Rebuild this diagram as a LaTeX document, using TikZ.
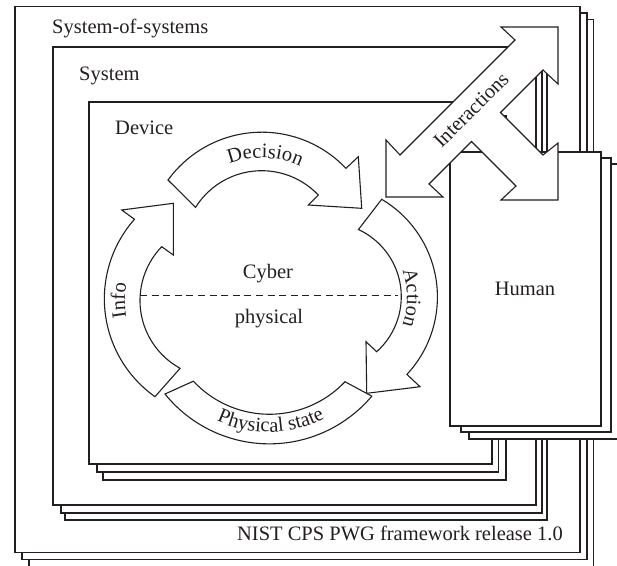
\documentclass[tikz,border=0pt]{standalone}
\usepackage{fontspec}
\setmainfont{Liberation Serif}
\usetikzlibrary{decorations.text}
\definecolor{ink}{HTML}{231F20}
\newcommand\lblfont{\fontsize{20.5}{24}\selectfont}

\begin{document}
\begin{tikzpicture}[x=1pt,y=-1pt,
  frame/.style={draw=ink,fill=white,line width=1.1pt},
  band/.style={draw=ink,fill=white,line width=1.1pt,line join=miter},
  lbl/.style={font=\lblfont,text=ink,inner sep=0pt},
  curvedtext/.style={decorate,decoration={text along path,text align=center,text={|\lblfont\color{ink}|#1}}}]

\useasboundingbox (0,0) rectangle (617,565);
\clip (0,0) rectangle (617,565);
\fill[white] (0,0) rectangle (617,565);

% system-of-systems stack
\draw[frame] (29,19.5) rectangle (593.5,570);
\draw[frame] (22,13) rectangle (587,559.5);
\draw[frame] (15,6.5) rectangle (580,552.5);
% system stack
\draw[frame] (65,60) rectangle (547,520);
\draw[frame] (61,53) rectangle (542,513);
\draw[frame] (53,47) rectangle (536,505);
% device stack
\draw[frame] (103,116) rectangle (506,480);
\draw[frame] (97,109) rectangle (498.5,472);
\draw[frame] (89,102) rectangle (492,464);

\node[lbl,anchor=base west] (sos) at (52,33) {System-of-systems};
\node[lbl,anchor=base west] (sys) at (79,80) {System};
\node[lbl,anchor=base west] (dev) at (115,134) {Device};
\node[lbl,anchor=base east] (nist) at (563,540) {NIST CPS PWG framework release 1.0};

% the cyber-physical loop
\draw[band] (168,180) arc[start angle=-144,end angle=-43.5,radius=116]
  -- (358.3,156.7) -- (361.7,208.3) -- (308.3,205) -- (318.3,195)
  arc[start angle=-43.5,end angle=-148,radius=78] -- cycle;
\draw[band] (381.7,199.3) arc[start angle=-59.4,end angle=43,radius=113.5]
  -- (420,386.7) -- (366.7,393.3) -- (366,341.7) -- (376.7,351.7)
  arc[start angle=48.1,end angle=-65.1,radius=74] -- cycle;
\draw[band] (165,394) arc[start angle=141.1,end angle=40.1,radius=134]
  -- (345,381.7) arc[start angle=43.4,end angle=137,radius=104] -- cycle;
\draw[band] (155,396.7) arc[start angle=125.3,end angle=221.5,radius=120]
  -- (121.7,210) -- (173.3,203.3) -- (173.3,255) -- (161.7,246.7)
  arc[start angle=224,end angle=118.8,radius=77.4] -- cycle;

\path[curvedtext=Decision] (200.62,182.18) arc[start angle=-133,end angle=-43,radius=90];
\path[curvedtext=Action] (387.81,245.29) arc[start angle=-40,end angle=40,radius=82];
\path[curvedtext=Physical state] (183.87,398.35) arc[start angle=133.6,end angle=43.6,radius=122];
\path[curvedtext=Info] (147.46,361.71) arc[start angle=140,end angle=220,radius=96];

\coordinate (cpl) at (140,295.7);
\coordinate (cpr) at (398.3,295.7);
\draw[ink,line width=1.1pt,dash pattern=on 7pt off 4.6pt] (cpl) -- (cpr);
\node[lbl,anchor=base] (cyber) at (268,278.5) {Cyber};
\node[lbl,anchor=base] (phys) at (269,323) {physical};

% human stack
\draw[frame] (469,164) rectangle (625,439);
\draw[frame] (461,158) rectangle (611,432);
\draw[frame] (450,152) rectangle (601,426);
\node[lbl,anchor=base] (human) at (525,295) {Human};

% interactions arrow
\draw[band] (558,27) -- (558,84) -- (543,70) -- (500.5,112.5) -- (543,155)
  -- (558,143) -- (558,200) -- (501,200) -- (516,186) -- (471.5,141.5)
  -- (429,184) -- (443,197) -- (386,197) -- (386,140) -- (400,155)
  -- (515,40) -- (501,27) -- cycle;
\node[lbl,rotate=45] (inter) at (471,110) {Interactions};
\end{tikzpicture}
\end{document}
